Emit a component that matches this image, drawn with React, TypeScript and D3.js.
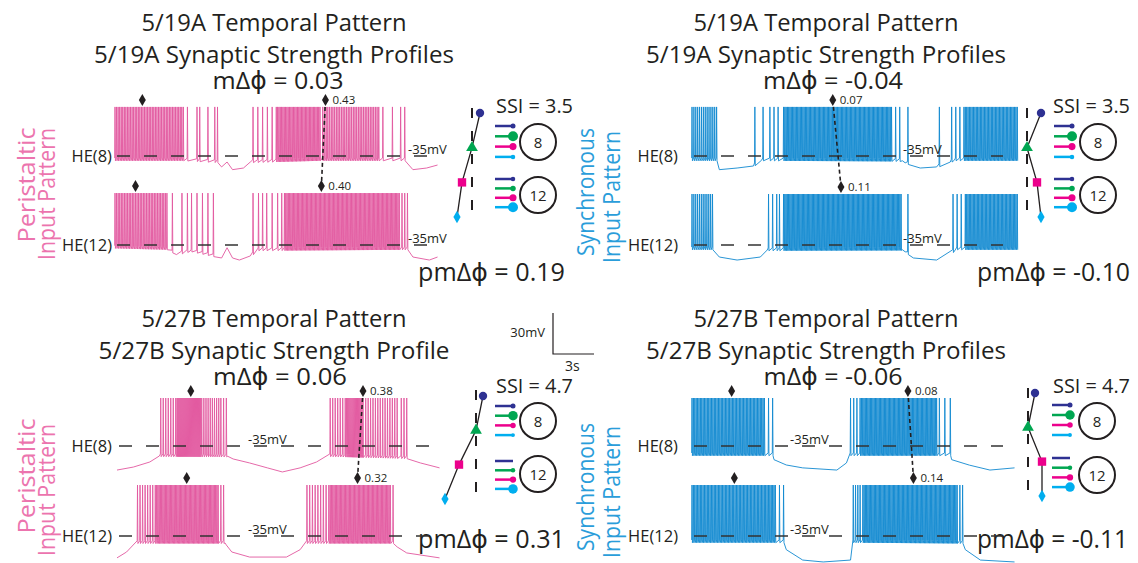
import React from "react";
import * as d3 from "d3";

type Pt = [number, number];
type Run = [number, number, number]; // [first spike s, last spike s, spike count]

const W = 1138;
const H = 563;
const PX_PER_S = 41 / 3; // 3 s scale bar = 41 px
const PX_PER_MV = 41 / 30; // 30 mV scale bar = 41 px

const PINK = "#E2589F";
const PINK_TEXT = "#EC74AE";
const BLUE = "#1189D0";
const BLUE_TEXT = "#2A9DDA";
const INK = "#231F20";
const INPUT_COLORS = ["#2E3192", "#00A651", "#EC008C", "#00AEEF"];

// ---------- 5/19A peristaltic: [time s, mV] baseline, spike runs, single spikes ----------
const tlHe8Base: Pt[] = [[0, -38], [5, -38], [7.5, -39.4], [7.8, -43], [8.2, -39.4], [8.6, -45], [9.4, -43.8], [9.9, -39.4], [15, -38], [21.2, -38], [21.8, -45], [22.8, -43.8], [23.6, -41.6]];
const tlHe8Runs: Run[] = [[0, 5.0, 45], [10.1, 11.5, 5], [11.8, 15.0, 34], [15.2, 19.3, 34]];
const tlHe8Singles = [5.3, 6.0, 6.2, 6.8, 7.3, 7.5, 19.6, 20.3, 20.9, 21.2];
const tlHe12Base: Pt[] = [[0, -37], [3.8, -38], [4.5, -42], [5.5, -39.4], [7.2, -43], [7.8, -44.5], [8.2, -37], [8.6, -44.5], [9.1, -46], [9.9, -43], [10.5, -38.7], [21.4, -38], [21.8, -43.8], [23, -46], [23.6, -43.8]];
const tlHe12Runs: Run[] = [[0, 3.8, 34], [12.4, 20.8, 90]];
const tlHe12Singles = [4.2, 4.9, 5.3, 5.6, 6.0, 6.4, 6.8, 7.2, 10.1, 10.5, 10.8, 11.1, 11.5, 11.9, 12.2, 21.0, 21.2, 21.4];
const tlMedians8 = [2.0, 15.4];
const tlMedians12 = [1.5, 15.1];
const tlPhaseLabels = ["0.43", "0.40"];

// ---------- 5/19A synchronous ----------
const trHe8Base: Pt[] = [[0, -38], [1.8, -38], [2.0, -45], [3.3, -43.8], [4.5, -42.3], [5.1, -38], [15.4, -38.5], [15.6, -40], [16.7, -43.8], [17.9, -43], [18.9, -39.4], [19.2, -38], [23.8, -38]];
const trHe8Runs: Run[] = [[0, 1.8, 14], [6.7, 14.6, 85], [19.9, 23.8, 40]];
const trHe8Singles = [4.6, 5.2, 5.7, 6.0, 6.3, 14.9, 15.2, 15.8, 18.1, 19.0, 19.3, 19.6];
const trHe12Base: Pt[] = [[0, -38], [1.5, -38], [2.0, -43.8], [3.3, -46], [5.0, -43.8], [5.5, -38.7], [15.4, -38.5], [15.6, -40], [16.2, -44.5], [17.9, -46], [19.1, -40], [19.3, -38], [23.8, -38]];
const trHe12Runs: Run[] = [[0, 1.5, 12], [6.7, 15.3, 95], [20.0, 23.8, 40]];
const trHe12Singles = [5.6, 5.9, 6.2, 6.4, 15.8, 19.1, 19.4, 19.7];
const trMedians8 = [10.3];
const trMedians12 = [10.9];
const trPhaseLabels = ["0.07", "0.11"];

// ---------- 5/27B peristaltic ----------
const blHe8Base: Pt[] = [[0, -52.6], [1.2, -50.4], [2.4, -46.7], [3.1, -42.3], [8.1, -42.5], [8.5, -44.5], [9.7, -47.4], [11.0, -51], [12.1, -54], [13.4, -51], [14.6, -46.7], [15.6, -42.3], [21.2, -43.8], [22.2, -47.4], [23.6, -51]];
const blHe8Runs: Run[] = [[3.2, 4.3, 7], [4.4, 6.1, 25], [6.2, 7.6, 10], [15.6, 16.7, 7], [16.8, 18.0, 16], [18.2, 20.5, 14]];
const blHe8Singles = [7.8, 8.0, 20.8, 21.0, 21.2];
const blHe12Base: Pt[] = [[0, -51], [0.7, -46.7], [1.5, -40], [7.9, -40], [8.0, -41.6], [8.4, -46.7], [9.7, -50.4], [12.4, -50.4], [13.4, -45], [13.9, -40], [20.2, -40], [20.5, -43], [21.2, -47.4], [23.6, -51]];
const blHe12Runs: Run[] = [[1.5, 2.8, 8], [2.9, 7.4, 50], [13.9, 15.5, 9], [15.6, 20.0, 48]];
const blHe12Singles = [7.6, 7.8, 20.2];
const blMedians8 = [5.4, 18.0];
const blMedians12 = [5.1, 17.6];
const blPhaseLabels = ["0.38", "0.32"];

// ---------- 5/27B synchronous ----------
const brHe8Base: Pt[] = [[0, -41.6], [5.9, -41.6], [6.0, -45], [6.9, -48.9], [8.1, -51], [10.6, -52.6], [11.3, -47.4], [11.6, -41.6], [18.9, -41.6], [19.0, -45], [20.3, -49], [21.8, -52.6], [23.6, -51]];
const brHe8Runs: Run[] = [[0, 5.2, 52], [11.6, 12.3, 4], [12.4, 17.9, 60]];
const brHe8Singles = [5.3, 5.6, 5.9, 18.1, 18.5, 18.9];
const brHe12Base: Pt[] = [[0, -39.4], [6.7, -39.4], [6.9, -45], [8.1, -52.6], [9.6, -54], [11.6, -52.6], [11.8, -39.4], [19.8, -40], [20.0, -45], [21.1, -52.6], [23.6, -54]];
const brHe12Runs: Run[] = [[0, 6.0, 60], [11.8, 12.3, 4], [12.5, 19.4, 75]];
const brHe12Singles = [6.1, 6.4, 6.7, 19.6, 19.8];
const brMedians8 = [2.9, 15.8];
const brMedians12 = [3.1, 16.2];
const brPhaseLabels = ["0.08", "0.14"];

// input phases (navy, green, magenta, cyan) relative to the dashed reference
const phase519Per = [0.08, 0, -0.1, -0.15];
const phase519Syn = [0.14, 0, 0.1, 0.14];
const phase527Per = [0.07, 0, -0.17, -0.31];
const phase527Syn = [0.07, 0, 0.14, 0.14];
// relative synaptic strengths onto HE(8) / HE(12)
const prof519He8 = [0.25, 1.0, 0.5, 0.2];
const prof519He12 = [0.2, 0.3, 0.5, 1.0];
const prof527He8 = [0.25, 0.9, 0.3, 0.15];
const prof527He12 = [0, 0.2, 0.4, 0.9];

const spikePeaks = { tl: [0.9, 3.0], tr: [0.9, 2.3], bl: [0.1, 2.3], br: [0.1, 2.3] };

function buildTrace(base: Pt[], runs: Run[], singles: number[], peak: number): Pt[] {
  const bl = d3.scaleLinear().domain(base.map((d) => d[0])).range(base.map((d) => d[1])).clamp(true);
  const times: number[] = [];
  runs.forEach(([a, b, n]) => {
    for (let i = 0; i < n; i++) times.push(n > 1 ? a + ((b - a) * i) / (n - 1) : a);
  });
  singles.forEach((t) => times.push(t));
  times.sort((a, b) => a - b);
  const pts: Pt[] = [];
  let bi = 0;
  const lastT = () => (pts.length ? pts[pts.length - 1][0] : -Infinity);
  const upTo = (t: number) => {
    while (bi < base.length && base[bi][0] <= t) {
      if (base[bi][0] > lastT()) pts.push(base[bi]);
      bi++;
    }
  };
  times.forEach((t) => {
    upTo(t - 0.03);
    if (t - 0.025 > lastT()) pts.push([t - 0.025, bl(t) + 1.5]);
    pts.push([t, peak]);
    pts.push([t + 0.03, bl(t) - 0.5]);
  });
  upTo(Infinity);
  return pts;
}

const sym = (type: d3.SymbolType, size: number) => d3.symbol().type(type).size(size)() || "";

type Trace = { label: string; base: Pt[]; runs: Run[]; singles: number[]; peak: number; medians: number[] };

type PanelCfg = {
  id: string;
  color: string;
  textColor: string;
  pattern: string[];
  titles: string[];
  mText: string;
  pmText: string;
  ssi: string;
  traces: Trace[];
  phaseLabels: string[];
  phases: number[];
  prof8: number[];
  prof12: number[];
  L: any;
};

const panels: PanelCfg[] = [
  {
    id: "tl", color: PINK, textColor: PINK_TEXT, pattern: ["Peristaltic", "Input Pattern"],
    titles: ["5/19A Temporal Pattern", "5/19A Synaptic Strength Profiles"], mText: "mΔϕ = 0.03", pmText: "pmΔϕ = 0.19", ssi: "SSI = 3.5",
    traces: [
      { label: "HE(8)", base: tlHe8Base, runs: tlHe8Runs, singles: tlHe8Singles, peak: spikePeaks.tl[0], medians: tlMedians8 },
      { label: "HE(12)", base: tlHe12Base, runs: tlHe12Runs, singles: tlHe12Singles, peak: spikePeaks.tl[1], medians: tlMedians12 },
    ],
    phaseLabels: tlPhaseLabels, phases: phase519Per, prof8: prof519He8, prof12: prof519He12,
    L: { x0: 115, dash: [156, 245], dashEnd: 428, mvX: 408, heX: 112, cx: 274, mCx: 278, ty: [31, 63, 89], pmX: 418, pmY: 281, labX: [35, 55], labY: [185, 194], labW: [115, 132], w: [265, 360, 131, 147],
      d: { dashX: 472, mY0: 113, mDy: 34.7, vTop: 108, vBot: 223, ssiX: 496, ssiY: 113, lineX1: 513, cX: 538, s8: 126, s8d: 10.3, s12: 179, s12d: 9.4, c8: 142, c12: 195 } },
  },
  {
    id: "tr", color: BLUE, textColor: BLUE_TEXT, pattern: ["Synchronous", "Input Pattern"],
    titles: ["5/19A Temporal Pattern", "5/19A Synaptic Strength Profiles"], mText: "mΔϕ = -0.04", pmText: "pmΔϕ = -0.10", ssi: "SSI = 3.5",
    traces: [
      { label: "HE(8)", base: trHe8Base, runs: trHe8Runs, singles: trHe8Singles, peak: spikePeaks.tr[0], medians: trMedians8 },
      { label: "HE(12)", base: trHe12Base, runs: trHe12Runs, singles: trHe12Singles, peak: spikePeaks.tr[1], medians: trMedians12 },
    ],
    phaseLabels: trPhaseLabels, phases: phase519Syn, prof8: prof519He8, prof12: prof519He12,
    L: { x0: 692, dash: [156, 245], dashEnd: 1003, mvX: 903, heX: 678, cx: 826, mCx: 833, ty: [31, 63, 89], pmX: 977, pmY: 281, labX: [594, 620], labY: [192, 197], labW: [128, 132], w: [265, 360, 140, 153],
      d: { dashX: 1027, mY0: 113, mDy: 34.7, vTop: 108, vBot: 223, ssiX: 1053, ssiY: 113, lineX1: 1072, cX: 1098, s8: 126, s8d: 10.3, s12: 179, s12d: 9.4, c8: 142, c12: 195 } },
  },
  {
    id: "bl", color: PINK, textColor: PINK_TEXT, pattern: ["Peristaltic", "Input Pattern"],
    titles: ["5/27B Temporal Pattern", "5/27B Synaptic Strength Profile"], mText: "mΔϕ = 0.06", pmText: "pmΔϕ = 0.31", ssi: "SSI = 4.7",
    traces: [
      { label: "HE(8)", base: blHe8Base, runs: blHe8Runs, singles: blHe8Singles, peak: spikePeaks.bl[0], medians: blMedians8 },
      { label: "HE(12)", base: blHe12Base, runs: blHe12Runs, singles: blHe12Singles, peak: spikePeaks.bl[1], medians: blMedians12 },
    ],
    phaseLabels: blPhaseLabels, phases: phase527Per, prof8: prof527He8, prof12: prof527He12,
    L: { x0: 117, dash: [446, 536], dashEnd: 430, mvX: 248, heX: 112, cx: 274, mCx: 280, ty: [327, 359, 385], pmX: 418, pmY: 548, labX: [35, 55], labY: [476, 490], labW: [115, 132], w: [265, 351, 134, 147],
      d: { dashX: 476, mY0: 396, mDy: 34.3, vTop: 390, vBot: 503, ssiX: 496, ssiY: 393, lineX1: 513, cX: 538, s8: 406, s8d: 9.7, s12: 461, s12d: 9.3, c8: 421, c12: 474 } },
  },
  {
    id: "br", color: BLUE, textColor: BLUE_TEXT, pattern: ["Synchronous", "Input Pattern"],
    titles: ["5/27B Temporal Pattern", "5/27B Synaptic Strength Profiles"], mText: "mΔϕ = -0.06", pmText: "pmΔϕ = -0.11", ssi: "SSI = 4.7",
    traces: [
      { label: "HE(8)", base: brHe8Base, runs: brHe8Runs, singles: brHe8Singles, peak: spikePeaks.br[0], medians: brMedians8 },
      { label: "HE(12)", base: brHe12Base, runs: brHe12Runs, singles: brHe12Singles, peak: spikePeaks.br[1], medians: brMedians12 },
    ],
    phaseLabels: brPhaseLabels, phases: phase527Syn, prof8: prof527He8, prof12: prof527He12,
    L: { x0: 692, dash: [446, 536], dashEnd: 1003, mvX: 790, heX: 678, cx: 826, mCx: 833, ty: [327, 359, 385], pmX: 977, pmY: 548, labX: [594, 620], labY: [487, 492], labW: [128, 132], w: [265, 360, 139, 151],
      d: { dashX: 1028, mY0: 393, mDy: 34.3, vTop: 388, vBot: 502, ssiX: 1053, ssiY: 393, lineX1: 1070, cX: 1097, s8: 405, s8d: 10, s12: 458, s12d: 9.7, c8: 421, c12: 475 } },
  },
];

const markerTypes = [d3.symbolCircle, d3.symbolTriangle, d3.symbolSquare, d3.symbolDiamond];
const markerSizes = [55, 60, 70, 45];

function PhaseDiagram({ p }: { p: PanelCfg }) {
  const d = p.L.d;
  const px = d3.scaleLinear().domain([-1, 1]).range([d.dashX - 100, d.dashX + 100]);
  const rr = d3.scaleSqrt().domain([0, 1]).range([0, 5]);
  const pts: Pt[] = p.phases.map((ph, i) => [px(ph), d.mY0 + i * d.mDy]);
  const link = d3.line<Pt>();
  const lineX0 = d.lineX1 - 18;
  const synRows = (y0: number, dy: number, prof: number[]) =>
    prof.map((s, i) => (
      <g key={i}>
        <line x1={lineX0} x2={d.lineX1} y1={y0 + i * dy} y2={y0 + i * dy} stroke={INPUT_COLORS[i]} strokeWidth={2.5} />
        {s > 0 && <circle cx={d.lineX1} cy={y0 + i * dy} r={Math.max(rr(s), 1.8)} fill={INPUT_COLORS[i]} />}
      </g>
    ));
  return (
    <g>
      <line x1={d.dashX} x2={d.dashX} y1={d.vTop} y2={d.vBot} stroke={INK} strokeWidth={2} strokeDasharray="10,13" />
      <path d={link(pts) || ""} fill="none" stroke={INK} strokeWidth={1.3} />
      {pts.map((pt, i) => (
        <path key={i} d={sym(markerTypes[i], markerSizes[i])} transform={`translate(${pt[0]},${pt[1]})`} fill={INPUT_COLORS[i]} />
      ))}
      <text x={d.ssiX} y={d.ssiY} fontSize={20} fill={INK} textLength={77} lengthAdjust="spacingAndGlyphs">{p.ssi}</text>
      {synRows(d.s8, d.s8d, p.prof8)}
      {synRows(d.s12, d.s12d, p.prof12)}
      <circle cx={d.cX} cy={d.c8} r={18} fill="none" stroke={INK} strokeWidth={2} />
      <circle cx={d.cX} cy={d.c12} r={18} fill="none" stroke={INK} strokeWidth={2} />
      <text x={d.cX} y={d.c8 + 5.5} fontSize={15} textAnchor="middle" fill={INK}>8</text>
      <text x={d.cX} y={d.c12 + 5.5} fontSize={15} textAnchor="middle" fill={INK}>12</text>
    </g>
  );
}

function Panel({ p }: { p: PanelCfg }) {
  const L = p.L;
  const x = d3.scaleLinear().domain([0, 24]).range([L.x0, L.x0 + 24 * PX_PER_S]);
  const ys = L.dash.map((dy: number) => d3.scaleLinear().domain([-35, -5]).range([dy, dy - 30 * PX_PER_MV]));
  const diamond = sym(d3.symbolDiamond, 42);
  const lastDiamonds: Pt[] = [];
  return (
    <g>
      {/* titles */}
      <text x={L.cx} y={L.ty[0]} fontSize={23} textAnchor="middle" fill={INK} textLength={L.w[0]} lengthAdjust="spacingAndGlyphs">{p.titles[0]}</text>
      <text x={L.cx} y={L.ty[1]} fontSize={23} textAnchor="middle" fill={INK} textLength={L.w[1]} lengthAdjust="spacingAndGlyphs">{p.titles[1]}</text>
      <text x={L.mCx} y={L.ty[2]} fontSize={24} textAnchor="middle" fill={INK} textLength={L.w[2]} lengthAdjust="spacingAndGlyphs">{p.mText}</text>
      <text x={L.pmX} y={L.pmY} fontSize={25} fill={INK} textLength={L.w[3]} lengthAdjust="spacingAndGlyphs">{p.pmText}</text>
      {/* rotated pattern label */}
      {p.pattern.map((s, i) => (
        <text key={s} transform={`translate(${L.labX[i]},${L.labY[i]}) rotate(-90)`} fontSize={24} textAnchor="middle" fill={p.textColor}
          textLength={L.labW[i]} lengthAdjust="spacingAndGlyphs">{s}</text>
      ))}
      {p.traces.map((tr, ti) => {
        const y = ys[ti];
        const pts = buildTrace(tr.base, tr.runs, tr.singles, tr.peak);
        const line = d3.line<Pt>().x((d) => x(d[0])).y((d) => y(d[1]));
        const dy = y(tr.peak) - 7;
        lastDiamonds.push([x(tr.medians[tr.medians.length - 1]), dy]);
        return (
          <g key={tr.label}>
            <path d={line(pts) || ""} fill="none" stroke={p.color} strokeWidth={0.9} strokeLinejoin="round" />
            <line x1={L.x0 + 2} x2={L.dashEnd} y1={y(-35)} y2={y(-35)} stroke="#333" strokeWidth={1.4} strokeDasharray="13,14" />
            <text x={L.heX} y={y(-35) + 5.5} fontSize={16.5} textAnchor="end" fill={INK}>{tr.label}</text>
            <text x={L.mvX} y={y(-35) - 2} fontSize={13} fill={INK}>-35mV</text>
            {tr.medians.map((m, i) => (
              <path key={i} d={diamond} transform={`translate(${x(m)},${dy})`} fill={INK} />
            ))}
            <text x={x(tr.medians[tr.medians.length - 1]) + 7} y={dy + 4} fontSize={11.5} fill={INK}>{p.phaseLabels[ti]}</text>
          </g>
        );
      })}
      <line x1={lastDiamonds[0][0]} y1={lastDiamonds[0][1]} x2={lastDiamonds[1][0]} y2={lastDiamonds[1][1]} stroke={INK} strokeWidth={1.6} strokeDasharray="4,3" />
      <PhaseDiagram p={p} />
    </g>
  );
}

function ScaleBar() {
  const sx = d3.scaleLinear().domain([0, 3]).range([553, 553 + 3 * PX_PER_S]);
  const sy = d3.scaleLinear().domain([0, 30]).range([354, 354 - 30 * PX_PER_MV]);
  return (
    <g>
      <path d={`M${sx(0)},${sy(30)}V${sy(0)}H${sx(3)}`} fill="none" stroke={INK} strokeWidth={1.2} />
      <text x={sx(0) - 8} y={337} fontSize={13} textAnchor="end" fill={INK}>30mV</text>
      <text x={565} y={371} fontSize={14} fill={INK}>3s</text>
    </g>
  );
}

export default function App() {
  return (
    <svg width={W} height={H} style={{ position: "absolute", left: 0, top: 0, background: "#fff" }} fontFamily="'Open Sans', 'DejaVu Sans', sans-serif">
      {panels.map((p) => <Panel key={p.id} p={p} />)}
      <ScaleBar />
    </svg>
  );
}
